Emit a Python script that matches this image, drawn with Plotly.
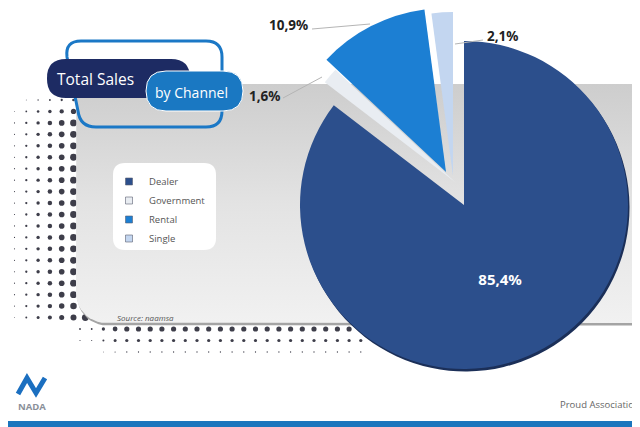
import math

import numpy as np
import plotly.graph_objects as go

# data
channels = ["Dealer", "Government", "Rental", "Single"]
shares = [85.4, 1.6, 10.9, 2.1]
slice_colors = ["#2c4f8c", "#e9edf2", "#1c7fd3", "#c3d6f0"]
# exploded offsets of each slice, in pixels (the original is a tilted 3D pie)
explode = [(0, 0), (-9, -23), (-18, -33), (-11, -29)]

# page is 640x427, but the browser body keeps an 8px margin, so the figure
# covers page pixels 8..640 / 8..427 and the axes are set up in page pixels
OFF = 8
W, H = 640, 427
CX, CY, R = 464, 205, 164
PANEL = dict(x0=76, y0=84, x1=700, y1=323, r_top=20, r_bot=30)


def pct(v):
    return f"{v:.1f}%".replace(".", ",")


def rr_path(x0, y0, x1, y1, r):
    return (f"M{x0+r},{y0} L{x1-r},{y0} Q{x1},{y0} {x1},{y0+r} L{x1},{y1-r} "
            f"Q{x1},{y1} {x1-r},{y1} L{x0+r},{y1} Q{x0},{y1} {x0},{y1-r} "
            f"L{x0},{y0+r} Q{x0},{y0} {x0+r},{y0} Z")


def panel_outline(p):
    xs, ys = [p["x0"] + p["r_top"], p["x1"], p["x1"]], [p["y0"], p["y0"], p["y1"]]
    cx, cy = p["x0"] + p["r_bot"], p["y1"] - p["r_bot"]
    for a in np.linspace(90, 180, 12):
        xs.append(cx + p["r_bot"] * math.cos(math.radians(a)))
        ys.append(cy + p["r_bot"] * math.sin(math.radians(a)))
    cx, cy = p["x0"] + p["r_top"], p["y0"] + p["r_top"]
    for a in np.linspace(180, 270, 10):
        xs.append(cx + p["r_top"] * math.cos(math.radians(a)))
        ys.append(cy + p["r_top"] * math.sin(math.radians(a)))
    return xs, ys


def halftone(p):
    # decorative dot pattern around the lower-left of the panel
    xs, ys, ss = [], [], []
    cx, cy, rb = p["x0"] + p["r_bot"], p["y1"] - p["r_bot"], p["r_bot"]
    # left side columns
    for x in np.arange(14.5, p["x0"] + 30, 11.8):
        for y in np.arange(100, p["y1"] + 2, 11.45):
            if x < p["x0"] and y <= cy:
                d = p["x0"] - x
            elif x < cx and y > cy:
                d = math.hypot(x - cx, y - cy) - rb
            else:
                continue
            s = 7.0 - 0.095 * d
            s *= min(1.0, max(0.4, (y - 90) / 28))
            if s > 0.8:
                xs.append(float(x)); ys.append(float(y)); ss.append(round(s, 2))
    # rows under the panel
    for x in np.arange(80, 362, 11.7):
        for y in (p["y1"] + 6, p["y1"] + 17.5, p["y1"] + 29):
            d = y - p["y1"]
            s = (6.2 - 0.17 * d) * min(1.0, max(0.35, (x - 78) / 40))
            if s > 0.8:
                xs.append(float(x)); ys.append(float(y)); ss.append(round(s, 2))
    return xs, ys, ss


fig = go.Figure()

dx, dy, ds = halftone(PANEL)
fig.add_trace(go.Scatter(x=dx, y=dy, mode="markers", hoverinfo="skip", showlegend=False,
                         marker=dict(size=ds, color="#3e3e4a", opacity=1, line=dict(width=0))))

px, py = panel_outline(PANEL)
fig.add_trace(go.Scatter(x=[v + 1 for v in px], y=[v + 2.5 for v in py], mode="lines",
                         fill="toself", fillcolor="#a4a4a4", line=dict(width=0),
                         hoverinfo="skip", showlegend=False))
fig.add_trace(go.Scatter(x=px, y=py, mode="lines", fill="toself", line=dict(width=0),
                         fillgradient=dict(type="vertical", start=PANEL["y0"], stop=PANEL["y1"],
                                           colorscale=[[0, "#cdcdcd"], [0.5, "#e3e3e3"], [1, "#f1f1f1"]]),
                         hoverinfo="skip", showlegend=False))

fw, fh = W - OFF, H - OFF


def slice_pie(i, cx, cy, color, with_text):
    colors = [color if j == i else "rgba(0,0,0,0)" for j in range(len(shares))]
    text = [pct(v) if (j == i and with_text) else "" for j, v in enumerate(shares)]
    return go.Pie(
        labels=channels, values=shares, sort=False, direction="clockwise", rotation=0,
        marker=dict(colors=colors, line=dict(width=0)),
        text=text, textinfo="text", textposition="inside", insidetextorientation="horizontal",
        textfont=dict(family="Noto Sans", size=15, color="white", weight="bold"),
        domain=dict(x=[max(0, (cx - R - OFF) / fw), min(1, (cx + R - OFF) / fw)],
                    y=[max(0, 1 - (cy + R - OFF) / fh), min(1, 1 - (cy - R - OFF) / fh)]),
        hoverinfo="skip", showlegend=False,
    )


# dark rim under the big slice
fig.add_trace(slice_pie(0, CX + 1.5, CY + 2.5, "#1b2f58", False))
# each slice drawn as its own pie, shifted outward to mimic the exploded look
for i, name in enumerate(channels):
    fig.add_trace(slice_pie(i, CX + explode[i][0], CY + explode[i][1], slice_colors[i], i == 0))

for name, col in zip(channels, slice_colors):
    fig.add_trace(go.Scatter(x=[None], y=[None], mode="markers", name=name,
                             marker=dict(symbol="square", size=7, color=col,
                                         line=dict(color="#5a6070", width=0.6))))

# outside labels with leader lines
out_pos = {"Government": (264, 96, 283, 98, 322, 77),
           "Rental": (288, 25, 312, 29, 370, 24),
           "Single": (502, 36, 483, 40, 455, 44)}
annotations = []
shapes = []
for name, val in zip(channels, shares):
    if name not in out_pos:
        continue
    tx, ty, lx0, ly0, lx1, ly1 = out_pos[name]
    annotations.append(dict(x=tx, y=ty, xref="x", yref="y", text=f"<b>{pct(val)}</b>", showarrow=False,
                            font=dict(family="Noto Sans", size=13.5, color="#222222")))
    shapes.append(dict(type="line", xref="x", yref="y", x0=lx0, y0=ly0, x1=lx1, y1=ly1,
                       line=dict(color="#b5b5b5", width=1), layer="above"))

# title block
outline = ("M81,41 L206,41 Q222,41 222,57 L222,111 Q222,127 206,127 "
           "L96,127 Q80,127 78,111 L67,57 Q65,41 81,41 Z")
shapes += [
    dict(type="path", xref="x", yref="y", path=outline,
         line=dict(color="#1b78c6", width=3), fillcolor="rgba(0,0,0,0)", layer="above"),
    dict(type="path", xref="x", yref="y", path=rr_path(47, 59, 190, 98, 19),
         line=dict(width=0), fillcolor="#1d2b63", layer="above"),
    dict(type="path", xref="x", yref="y", path=rr_path(146, 71, 243, 111, 20),
         line=dict(color="white", width=1), fillcolor="#1a78c2", layer="above"),
    # legend box
    dict(type="path", xref="x", yref="y", path=rr_path(113, 163, 216, 250, 12),
         line=dict(width=0), fillcolor="white", layer="above"),
    # footer
    dict(type="rect", xref="x", yref="y", x0=0, y0=421, x1=640, y1=427,
         line=dict(width=0), fillcolor="#1a75bd", layer="above"),
    dict(type="path", xref="x", yref="y", path="M18,394 L27,378 L36,393 L45,378",
         line=dict(color="#1b6fc0", width=5), layer="above"),
]
annotations += [
    dict(x=95, y=79, xref="x", yref="y", text="Total Sales", showarrow=False,
         font=dict(family="Open Sans", size=15.5, color="white")),
    dict(x=191, y=92, xref="x", yref="y", text="by Channel", showarrow=False,
         font=dict(family="Open Sans", size=14, color="white")),
    dict(x=115, y=317, xref="x", yref="y", text="<i>Source: naamsa</i>", showarrow=False,
         xanchor="left", font=dict(family="Open Sans", size=8, color="#555555")),
    dict(x=32, y=406, xref="x", yref="y", text="<b>NADA</b>", showarrow=False,
         font=dict(family="Open Sans", size=9.5, color="#8a909a")),
    dict(x=558, y=404, xref="x", yref="y", text="Proud Association", showarrow=False,
         xanchor="left", font=dict(family="Open Sans", size=9.5, color="#666666")),
]

fig.update_layout(
    width=fw, height=fh, margin=dict(l=0, r=0, t=0, b=0),
    paper_bgcolor="white", plot_bgcolor="white",
    xaxis=dict(range=[OFF, W], visible=False, fixedrange=True),
    yaxis=dict(range=[H, OFF], visible=False, fixedrange=True),
    showlegend=True,
    legend=dict(x=(109 - OFF) / fw, y=1 - (167 - OFF) / fh, xanchor="left", yanchor="top",
                bgcolor="rgba(0,0,0,0)", font=dict(family="Open Sans", size=9.5, color="#555555"),
                itemwidth=30, tracegroupgap=0),
    shapes=shapes, annotations=annotations,
)

fig.write_html("out.html")
